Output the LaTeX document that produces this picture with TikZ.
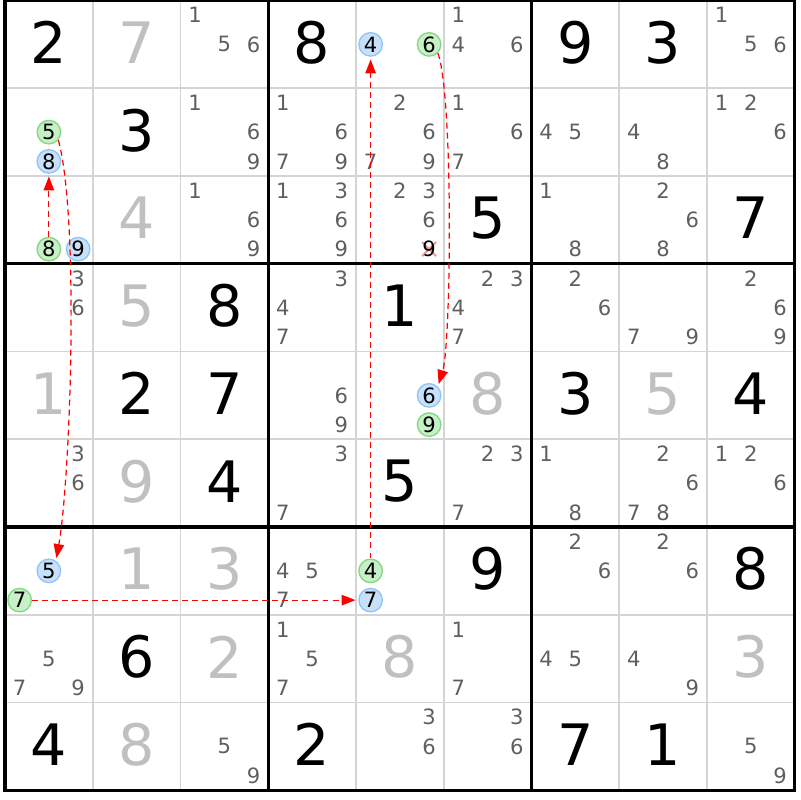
\documentclass[tikz,border=0pt]{standalone}
\usepackage{fontspec}
\setmainfont{DejaVu Sans}
\usetikzlibrary{arrows.meta}
\definecolor{lineagris}{RGB}{212,212,212}
\definecolor{numgris}{RGB}{192,192,192}
\definecolor{candgris}{RGB}{95,95,95}
\definecolor{rellenoverde}{RGB}{200,240,200}
\definecolor{bordeverde}{RGB}{130,215,130}
\definecolor{rellenoazul}{RGB}{200,225,250}
\definecolor{bordeazul}{RGB}{145,195,245}
\definecolor{rosa}{RGB}{240,150,150}
\tikzset{
	fina/.style={draw=lineagris, line width=1.1pt},
	gruesa/.style={draw=black, line width=1.8pt, line cap=rect},
	dado/.style={font=\fontsize{32.5}{32.5}\selectfont, inner sep=0pt, yshift=1pt},
	resuelto/.style={dado, text=numgris},
	cand/.style={font=\fontsize{12}{12}\selectfont, text=candgris, inner sep=0pt},
	marca/.style={circle, inner sep=0pt, minimum size=0.47cm, line width=0.75pt, font=\fontsize{12}{12}\selectfont},
	verde/.style={marca, draw=bordeverde, fill=rellenoverde},
	azul/.style={marca, draw=bordeazul, fill=rellenoazul},
	tachado/.style={draw=rosa, line width=1.1pt},
	flecha/.style={red, line width=0.7pt, dash pattern=on 3.4pt off 2.3pt, -{Triangle[length=8pt,width=6pt]}, shorten >=1.5pt}
}
\begin{document}
\begin{tikzpicture}[x=1.755cm, y=1.755cm]
	\useasboundingbox (-0.057,-0.111) rectangle (9.06,9.006);
	% Cuadricula
	\foreach \i in {1,2,4,5,7,8} {
		\draw[fina] (\i,0) -- (\i,9);
		\draw[fina] (0,\i) -- (9,\i);
	}
	\foreach \i in {3,6} {
		\draw[gruesa] (\i,0) -- (\i,9);
		\draw[gruesa] (0,\i) -- (9,\i);
	}
	\draw[gruesa] (0,0) rectangle (9,9);
	% Numeros dados
	\foreach \fil/\col/\dig in {1/1/2, 1/4/8, 1/7/9, 1/8/3, 2/2/3, 3/6/5, 3/9/7, 4/3/8, 4/5/1, 5/2/2, 5/3/7, 5/7/3, 5/9/4, 6/3/4, 6/5/5, 7/6/9, 7/9/8, 8/2/6, 9/1/4, 9/4/2, 9/7/7, 9/8/1}
		\node[dado] (r\fil c\col) at (\col-0.5, 9.5-\fil) {\dig};
	% Numeros resueltos
	\foreach \fil/\col/\dig in {1/2/7, 3/2/4, 4/2/5, 5/1/1, 5/6/8, 5/8/5, 6/2/9, 7/2/1, 7/3/3, 8/3/2, 8/5/8, 8/9/3, 9/2/8}
		\node[resuelto] (r\fil c\col) at (\col-0.5, 9.5-\fil) {\dig};
	% Candidatos
	\foreach \fil/\col/\lista in {1/3/{1,5,6}, 1/6/{1,4,6}, 1/9/{1,5,6},
		2/3/{1,6,9}, 2/4/{1,6,7,9}, 2/5/{2,6,7,9}, 2/6/{1,6,7}, 2/7/{4,5}, 2/8/{4,8}, 2/9/{1,2,6},
		3/3/{1,6,9}, 3/4/{1,3,6,9}, 3/5/{2,3,6}, 3/7/{1,8}, 3/8/{2,6,8},
		4/1/{3,6}, 4/4/{3,4,7}, 4/6/{2,3,4,7}, 4/7/{2,6}, 4/8/{7,9}, 4/9/{2,6,9},
		5/4/{6,9},
		6/1/{3,6}, 6/4/{3,7}, 6/6/{2,3,7}, 6/7/{1,8}, 6/8/{2,6,7,8}, 6/9/{1,2,6},
		7/4/{4,5,7}, 7/7/{2,6}, 7/8/{2,6},
		8/1/{5,7,9}, 8/4/{1,5,7}, 8/6/{1,7}, 8/7/{4,5}, 8/8/{4,9},
		9/3/{5,9}, 9/5/{3,6}, 9/6/{3,6}, 9/9/{5,9}} {
		\foreach \dig in \lista {
			\pgfmathtruncatemacro\sc{mod(\dig-1,3)}
			\pgfmathtruncatemacro\sr{int((\dig-1)/3)}
			\node[cand] (r\fil c\col n\dig) at ({\col-1+(2*\sc+1)/6}, {10-\fil-(2*\sr+1)/6}) {\dig};
		}
	}
	% Candidato eliminado
	\coordinate (tachon) at (4.8333,6.1667);
	\draw[tachado] ([shift={(-0.08,-0.08)}]tachon) -- ([shift={(0.08,0.08)}]tachon);
	\draw[tachado] ([shift={(-0.08,0.08)}]tachon) -- ([shift={(0.08,-0.08)}]tachon);
	\node[cand, text=black] (r3c5n9) at (tachon) {9};
	% Candidatos marcados
	\foreach \fil/\col/\dig in {1/5/6, 2/1/5, 3/1/8, 5/5/9, 7/1/7, 7/5/4} {
		\pgfmathtruncatemacro\sc{mod(\dig-1,3)}
		\pgfmathtruncatemacro\sr{int((\dig-1)/3)}
		\node[verde] (r\fil c\col n\dig) at ({\col-1+(2*\sc+1)/6}, {10-\fil-(2*\sr+1)/6}) {\dig};
	}
	\foreach \fil/\col/\dig in {1/5/4, 2/1/8, 3/1/9, 5/5/6, 7/1/5, 7/5/7} {
		\pgfmathtruncatemacro\sc{mod(\dig-1,3)}
		\pgfmathtruncatemacro\sr{int((\dig-1)/3)}
		\node[azul] (r\fil c\col n\dig) at ({\col-1+(2*\sc+1)/6}, {10-\fil-(2*\sr+1)/6}) {\dig};
	}
	% Flechas
	\draw[flecha] (r3c1n8) -- (r2c1n8);
	\draw[flecha] (r2c1n5.-40) to[out=-75, in=80, looseness=0.5] (r7c1n5.55);
	\draw[flecha] (r7c1n7) -- (r7c5n7);
	\draw[flecha] (r7c5n4) -- (r1c5n4);
	\draw[flecha] (r1c5n6.-45) to[out=-70, in=73, looseness=0.35] (r5c5n6.45);
\end{tikzpicture}
\end{document}
